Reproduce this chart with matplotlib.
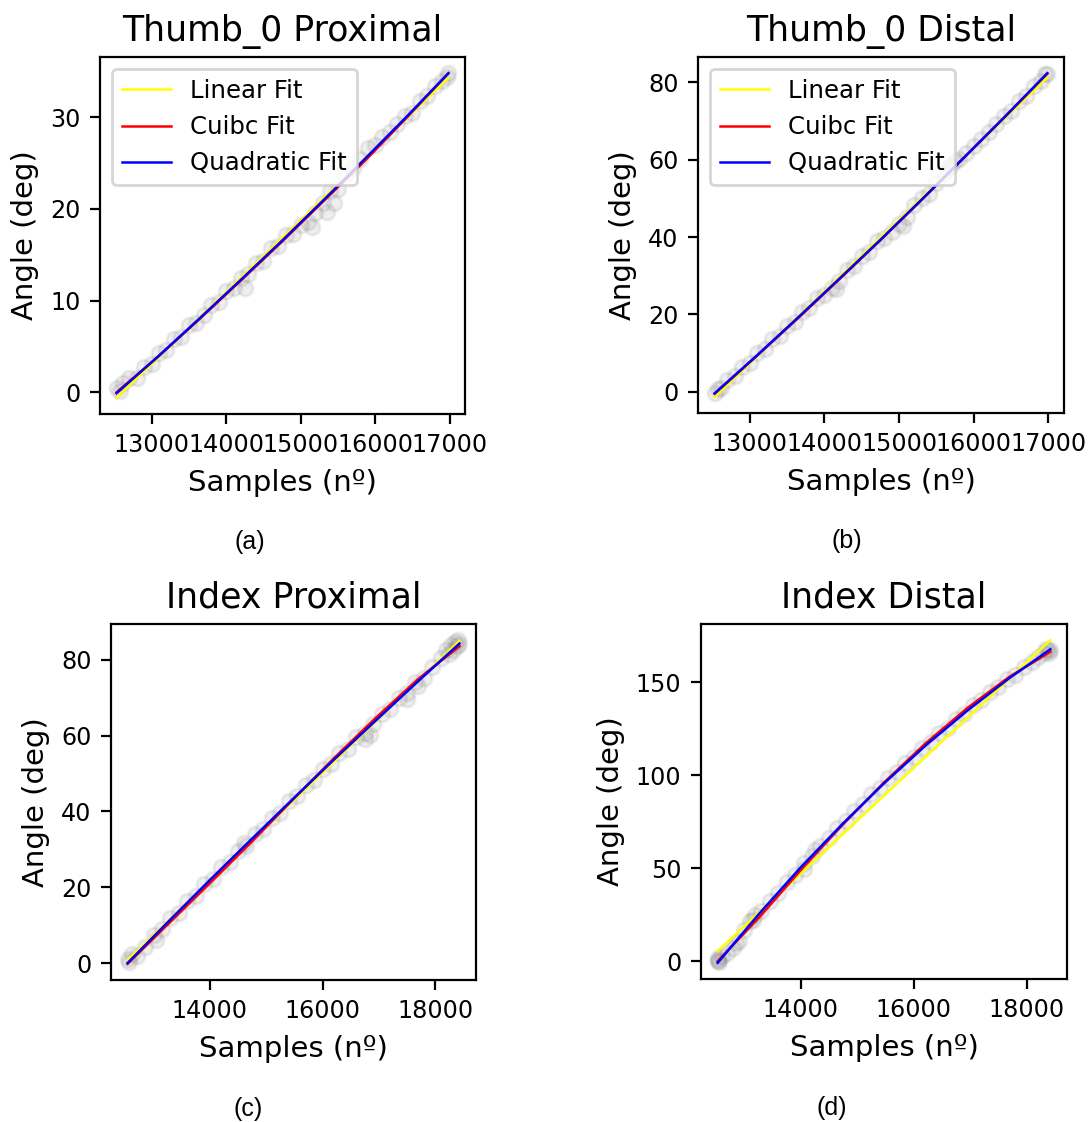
import numpy as np
import matplotlib.pyplot as plt
from matplotlib.ticker import MultipleLocator

## Données

# Thumb_0 Proximal
xa = [12540, 12580, 12620, 12700, 12800, 12900, 13000, 13100, 13200, 13300, 13400, 13500,
      13600, 13700, 13800, 13900, 14000, 14100, 14200, 14250, 14300, 14400, 14500, 14600,
      14700, 14800, 14900, 15000, 15100, 15150, 15200, 15300, 15350, 15400, 15450, 15500,
      15600, 15700, 15800, 15900, 16000, 16100, 16200, 16300, 16400, 16500, 16600, 16700,
      16800, 16900, 16960, 16985]
ya = [0.5, 0.1, 1.0, 1.6, 1.6, 2.8, 3.1, 4.3, 4.6, 5.8, 6.0, 7.3,
      7.6, 8.4, 9.5, 9.8, 11.1, 11.4, 12.5, 11.4, 12.9, 14.1, 14.3, 15.7,
      16.0, 17.2, 17.3, 18.2, 18.6, 18.0, 19.6, 20.6, 19.7, 21.9, 20.6, 22.2,
      23.7, 24.5, 25.4, 26.6, 27.0, 27.8, 28.4, 29.3, 30.1, 30.5, 31.8, 32.3,
      33.4, 34.0, 34.4, 34.8]

# Thumb_0 Distal
xb = [12540, 12580, 12620, 12700, 12800, 12900, 13000, 13100, 13200, 13300, 13400, 13500,
      13600, 13700, 13800, 13900, 14000, 14100, 14150, 14200, 14300, 14400, 14500, 14600,
      14700, 14800, 14900, 15000, 15050, 15100, 15200, 15300, 15400, 15500, 15600, 15650,
      15700, 15750, 15800, 15900, 16000, 16100, 16200, 16300, 16400, 16500, 16600, 16700,
      16800, 16900, 16960, 16985]
yb = [-0.4, 0.8, 0.9, 3.0, 4.0, 6.5, 7.4, 10.1, 11.1, 13.6, 14.5, 17.1,
      18.1, 20.7, 21.6, 24.3, 25.0, 26.8, 26.5, 28.6, 31.5, 32.5, 35.2, 36.1,
      38.9, 39.8, 41.3, 43.4, 42.8, 45.2, 48.3, 50.1, 51.2, 54.1, 56.6, 58.0,
      58.6, 59.8, 60.3, 61.8, 63.6, 65.3, 67.3, 69.2, 71.2, 72.5, 75.1, 76.5,
      79.0, 80.5, 82.1, 82.1]

# Index Proximal
xc = [12540, 12570, 12620, 12700, 12850, 13000, 13050, 13150, 13300, 13450, 13600, 13750,
      13900, 14050, 14200, 14350, 14500, 14600, 14650, 14800, 14950, 15100, 15250, 15400,
      15550, 15700, 15850, 16000, 16150, 16300, 16450, 16600, 16750, 16750, 16850, 16900,
      17050, 17200, 17350, 17500, 17500, 17650, 17700, 17800, 17950, 18100, 18200, 18250,
      18280, 18320, 18350, 18380, 18400, 18430]
yc = [1.0, 0.3, 2.4, 1.9, 4.3, 7.5, 6.0, 8.9, 12.0, 13.3, 16.5, 17.7,
      20.9, 22.2, 25.3, 26.6, 29.7, 31.6, 31.0, 34.0, 35.4, 38.4, 39.7, 42.7,
      44.1, 46.9, 48.3, 51.1, 52.5, 55.4, 56.6, 59.6, 60.8, 59.0, 60.2, 63.0,
      65.8, 67.1, 70.0, 71.2, 69.8, 74.1, 73.0, 75.3, 78.2, 80.4, 82.5, 81.5,
      84.0, 82.6, 84.6, 83.6, 85.2, 84.2]

# Index Distal
xd = [12530, 12540, 12545, 12560, 12600, 12700, 12800, 12850, 12900, 13000, 13100, 13150,
      13200, 13300, 13450, 13600, 13750, 13900, 14050, 14050, 14200, 14250, 14350, 14500,
      14650, 14800, 14950, 15100, 15250, 15400, 15550, 15700, 15850, 16000, 16150, 16300,
      16450, 16600, 16750, 16900, 17050, 17200, 17350, 17500, 17650, 17800, 17950, 18100,
      18200, 18300, 18350, 18380, 18400, 18420]
yd = [0.5, 0.0, 1.8, -0.5, 2.6, 4.5, 7.0, 10.0, 11.0, 16.8, 21.5, 22.3,
      25.0, 27.0, 32.6, 36.5, 42.8, 46.4, 52.5, 49.6, 56.4, 59.6, 62.1, 66.0,
      71.6, 75.2, 80.8, 84.2, 89.6, 93.0, 98.3, 101.5, 106.7, 109.8, 114.8, 117.8,
      122.7, 125.5, 130.3, 133.0, 137.6, 140.3, 144.7, 147.3, 151.6, 154.0, 158.2, 160.5,
      163.6, 165.6, 167.8, 167.0, 165.8, 167.0]

# Courbes d'ajustement lues aux noeuds
xa_fit = [12530, 13090, 13645, 14200, 14760, 15315, 15870, 16430, 16985]
lin_a = [-0.6, 34.3]
cub_a = [0.0, 3.9, 8.0, 12.2, 16.5, 20.9, 25.3, 30.0, 34.8]
quad_a = [-0.1, 3.93, 8.06, 12.28, 16.60, 21.01, 25.51, 30.11, 34.80]

xb_fit = [12530, 13090, 13645, 14200, 14760, 15315, 15870, 16430, 16985]
lin_b = [-1.3, 81.3]
cub_b = [-0.5, 9.2, 19.0, 29.1, 39.4, 49.9, 60.6, 71.4, 82.3]
quad_b = [-0.4, 9.29, 19.18, 29.24, 39.5, 49.94, 60.58, 71.39, 82.4]

xc_fit = [12540, 13275, 14010, 14750, 15485, 16220, 16960, 17695, 18430]
lin_c = [0.8, 85.0]
cub_c = [-0.2, 10.5, 21.2, 32.1, 43.3, 54.3, 64.9, 74.9, 83.6]
quad_c = [0.0, 11.11, 22.05, 32.83, 43.45, 53.91, 64.20, 74.33, 84.3]

xd_fit = [12530, 13265, 14000, 14740, 15475, 16210, 16950, 17685, 18420]
lin_d = [5.4, 172.5]
cub_d = [0.0, 23.5, 48.9, 73.2, 96.0, 117.0, 136.0, 152.6, 166.2]
quad_d = [-0.9, 25.50, 50.38, 73.73, 95.55, 115.85, 134.63, 151.88, 167.6]

titres = ['Thumb_0 Proximal', 'Thumb_0 Distal', 'Index Proximal', 'Index Distal']
legendes = ['(a)', '(b)', '(c)', '(d)']
pas_x = [1000, 1000, 2000, 2000]     # espacement des graduations en x

panneaux = [
    (xa, ya, xa_fit, lin_a, cub_a, quad_a),
    (xb, yb, xb_fit, lin_b, cub_b, quad_b),
    (xc, yc, xc_fit, lin_c, cub_c, quad_c),
    (xd, yd, xd_fit, lin_d, cub_d, quad_d),
]

## Mise en page (pixels de l'image d'origine)
W, H = 1091, 1122
boites = [(100, 57, 365, 357), (698, 57, 366, 356),
          (111, 624, 365, 356), (701, 624, 366, 355)]
pos_legendes = [(250, 542), (847, 541), (248, 1109), (832, 1108)]

fig = plt.figure(figsize=(W / 200, H / 200), dpi=200)

for k in range(4):
    x, y, xf, lin, cub, quad = panneaux[k]
    l, t, w, h = boites[k]
    ax = fig.add_axes([l / W, 1 - (t + h) / H, w / W, h / H])
    ax.scatter(x, y, s=30, color='grey', alpha=0.13)
    ax.plot([xf[0], xf[-1]], lin, color='yellow', linewidth=0.9, label='Linear Fit')
    ax.plot(xf, cub, color='red', linewidth=0.9, label='Cuibc Fit')
    ax.plot(xf, quad, color='blue', linewidth=0.9, label='Quadratic Fit')
    ax.xaxis.set_major_locator(MultipleLocator(pas_x[k]))
    ax.set_title(titres[k], fontsize=12.5, pad=5.8)
    ax.set_xlabel('Samples (nº)', fontsize=10.5)
    ax.set_ylabel('Angle (deg)', fontsize=10.5)
    ax.tick_params(labelsize=8.6)
    if k < 2:
        ax.legend(loc='upper left', fontsize=8.8)
    fig.text(pos_legendes[k][0] / W, 1 - pos_legendes[k][1] / H, legendes[k],
             ha='center', va='center', fontsize=9, family='Liberation Sans')

plt.savefig('out.png', dpi=200)
